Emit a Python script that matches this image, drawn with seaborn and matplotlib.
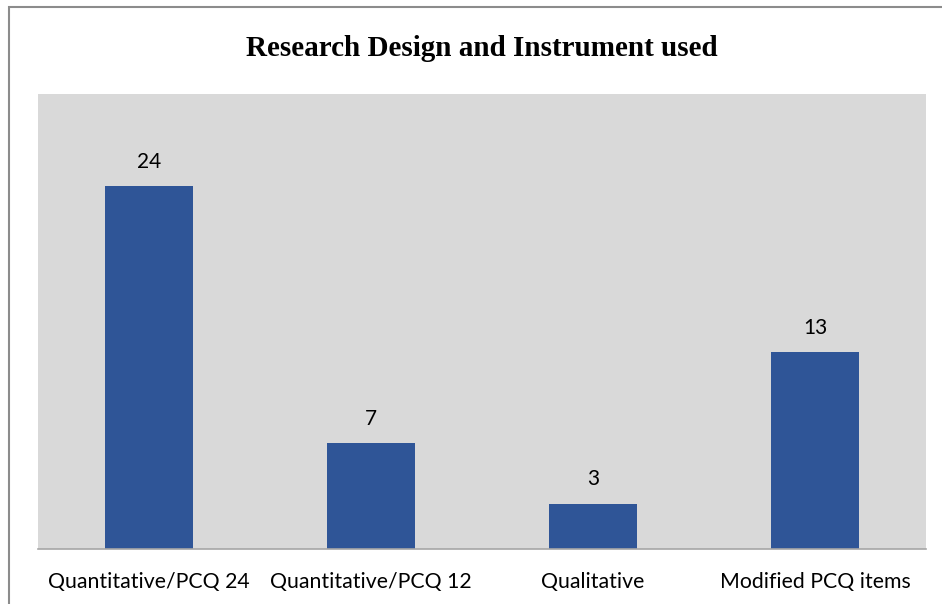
import pandas as pd
import matplotlib
matplotlib.use('Agg')
import matplotlib.pyplot as plt
import seaborn as sns
from matplotlib.patches import Rectangle

categories = ['Quantitative/PCQ 24', 'Quantitative/PCQ 12', 'Qualitative', 'Modified PCQ items']
counts = [24, 7, 3, 13]
title = 'Research Design and Instrument used'


def main():
    df = pd.DataFrame({'category': categories, 'count': counts})
    sns.set_style('white')
    plt.rcParams['font.family'] = ['Lato', 'DejaVu Sans']

    fig = plt.figure(figsize=(9.42, 6.04), dpi=100)
    ax = fig.add_axes([38 / 942, 1 - 549 / 604, 888 / 942, 455 / 604])
    ax.set_facecolor('#d9d9d9')

    sns.barplot(data=df, x='category', y='count', color='#2f5597', width=0.4,
                saturation=1, linewidth=0, ax=ax)
    ax.set_ylim(0, 30.1)
    ax.set_xlim(-0.5, 3.5)

    for i, v in enumerate(counts):
        ax.annotate(str(v), (i, v), xytext=(0, 10.5), textcoords='offset points',
                    ha='center', va='bottom', fontsize=15, color='#000000')

    for side in ['top', 'right', 'left']:
        ax.spines[side].set_visible(False)
    ax.spines['bottom'].set_color('#a6a6a6')
    ax.spines['bottom'].set_linewidth(1.2)
    ax.set_yticks([])
    ax.tick_params(axis='x', length=0, pad=16.5, labelsize=15.3, labelcolor='#000000')
    ax.set_xlabel('')
    ax.set_ylabel('')

    fig.text(482 / 942, 1 - 48 / 604, title, ha='center', va='center', color='#000000',
             fontsize=21, fontweight='bold', family=['Liberation Serif', 'DejaVu Serif'])

    # outer chart border (right and bottom edges are cropped off)
    fig.patches.append(Rectangle((9 / 942, -0.1), 1.0, 1.1 - 7 / 604,
                                 transform=fig.transFigure, fill=False,
                                 edgecolor='#8c8c8c', linewidth=1.5))

    fig.savefig('out.png', dpi=100)


if __name__ == '__main__':
    main()
